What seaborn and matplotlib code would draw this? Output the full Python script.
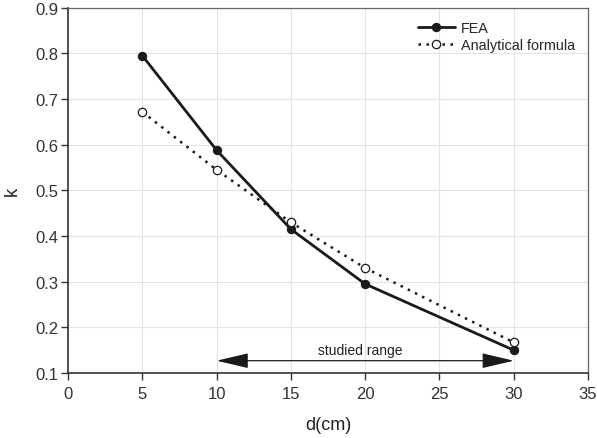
import numpy as np
import pandas as pd
import matplotlib
matplotlib.use('Agg')
import matplotlib.pyplot as plt
import seaborn as sns

# values
d_cm = [5, 10, 15, 20, 30]
k_fea = [0.795, 0.588, 0.415, 0.295, 0.150]
k_analytical = [0.672, 0.545, 0.430, 0.330, 0.167]
range_start, range_end, range_k = 10, 30, 0.127

sns.set_style('whitegrid')
plt.rcParams['font.family'] = ['Liberation Sans', 'DejaVu Sans']

fig, ax = plt.subplots(figsize=(5.97, 4.39), dpi=100)

df = pd.DataFrame({'d': d_cm, 'FEA': k_fea, 'Analytical formula': k_analytical})

sns.lineplot(x='d', y='FEA', data=df, ax=ax, color='#1a1a1a', lw=2,
             marker='o', markersize=6, markeredgecolor='#1a1a1a', label='FEA')
sns.lineplot(x='d', y='Analytical formula', data=df, ax=ax, color='#1a1a1a', lw=1.8,
             linestyle=(0, (1, 2.2)), marker='o', markersize=6,
             markerfacecolor='white', markeredgecolor='#1a1a1a', markeredgewidth=0.9,
             label='Analytical formula')

# studied range arrow
ax.annotate('', xy=(range_start, range_k), xytext=(range_end, range_k),
            arrowprops=dict(arrowstyle='<|-|>,head_length=2.0,head_width=0.47',
                            color='#1a1a1a', lw=0.9, shrinkA=0, shrinkB=0))
ax.text((range_start + range_end) / 2 - 0.3, range_k + 0.008, 'studied range',
        ha='center', va='bottom', fontsize=10, color='#222222')

ax.set_xlim(0, 35)
ax.set_ylim(0.1, 0.9)
ax.set_xticks(np.arange(0, 36, 5))
ax.set_yticks(np.round(np.arange(0.1, 0.91, 0.1), 1))
ax.set_xlabel('d(cm)', fontsize=13, color='#222222', labelpad=11)
ax.set_ylabel('k', fontsize=13, color='#222222', va='center')
ax.yaxis.set_label_coords(-0.108, 0.5)

ax.grid(color='#e3e3e3', lw=0.8)
ax.tick_params(axis='both', labelsize=12, colors='#333333', direction='out',
               length=5, width=1, bottom=True, left=True)
ax.tick_params(axis='x', pad=4)
ax.tick_params(axis='y', pad=2)
for side in ['left', 'bottom']:
    ax.spines[side].set_color('#333333')
    ax.spines[side].set_linewidth(1.2)
for side in ['top', 'right']:
    ax.spines[side].set_color('#666666')
    ax.spines[side].set_linewidth(0.9)

ax.legend(loc='upper right', frameon=False, fontsize=10.4, handlelength=2.6,
          handletextpad=0.4, labelspacing=0.2, borderaxespad=0.5)

plt.subplots_adjust(left=0.114, right=0.985, top=0.98, bottom=0.148)
plt.savefig('out.png', dpi=100)
